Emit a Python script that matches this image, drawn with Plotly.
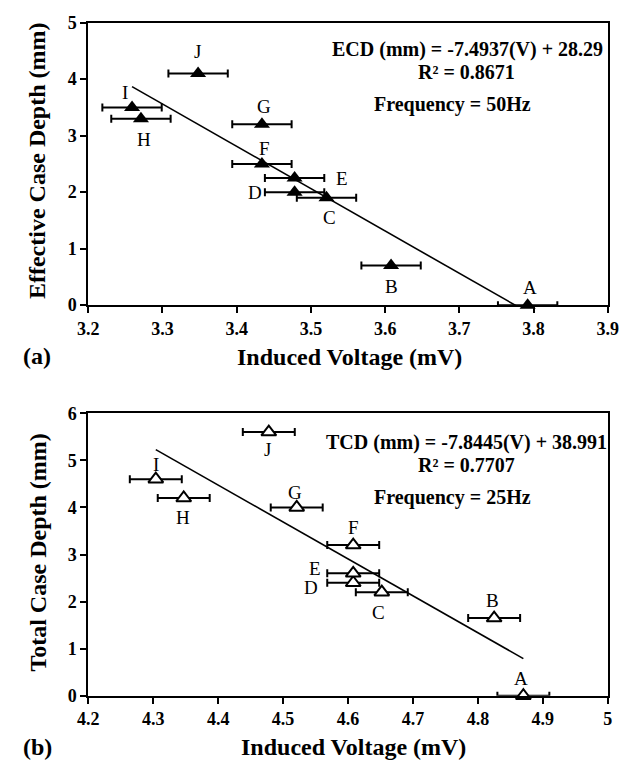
import plotly.graph_objects as go

# ---------------- data ----------------
labels = ["A", "B", "C", "D", "E", "F", "G", "H", "I", "J"]

# (a) 50 Hz
volt_a = [3.792, 3.608, 3.521, 3.478, 3.478, 3.434, 3.434, 3.271, 3.259, 3.348]
ecd_a = [0.0, 0.7, 1.9, 2.0, 2.25, 2.5, 3.2, 3.3, 3.5, 4.1]
err_a = [0.04] * 10
slope_a, icept_a = -7.4937, 28.29
r2_a = 0.8671

# (b) 25 Hz
volt_b = [4.870, 4.825, 4.652, 4.608, 4.608, 4.608, 4.521, 4.347, 4.304, 4.478]
tcd_b = [0.0, 1.65, 2.2, 2.4, 2.6, 3.2, 4.0, 4.2, 4.6, 5.6]
err_b = [0.04] * 10
slope_b, icept_b = -7.8445, 38.991
r2_b = 0.7707

xticks_a = [3.2, 3.3, 3.4, 3.5, 3.6, 3.7, 3.8, 3.9]
xticktext_a = ["3.2", "3.3", "3.4", "3.5", "3.6", "3.7", "3.8", "3.9"]
yticks_a = [0, 1, 2, 3, 4, 5]
xticks_b = [4.2, 4.3, 4.4, 4.5, 4.6, 4.7, 4.8, 4.9, 5.0]
xticktext_b = ["4.2", "4.3", "4.4", "4.5", "4.6", "4.7", "4.8", "4.9", "5"]
yticks_b = [0, 1, 2, 3, 4, 5, 6]

# label offsets in pixels (style): (dx, dy up)
off_a = [(2, 18), (0, -21), (3, -20), (-40, 0), (47, 0), (3, 15), (2, 18), (3, -21), (-7, 15), (-1, 22)]
off_b = [(-2, 17), (-2, 18), (-3, -20), (-42, -5), (-38, 5), (0, 18), (-2, 15), (-1, -19), (0, 15), (-1, -17)]

SERIF = "Liberation Serif, Times New Roman, serif"
W, H = 641, 771


def bold(lst):
    return ["<b>%s</b>" % s for s in lst]


fig = go.Figure()

# ---------- panel (a) ----------
fig.add_trace(go.Scatter(
    x=[min(volt_a), max(volt_a)],
    y=[slope_a * min(volt_a) + icept_a, slope_a * max(volt_a) + icept_a],
    mode="lines", line=dict(color="black", width=1.6),
    xaxis="x", yaxis="y", showlegend=False, cliponaxis=True, hoverinfo="skip"))
fig.add_trace(go.Scatter(
    x=volt_a, y=ecd_a, mode="markers",
    marker=dict(symbol="triangle-up", size=14, color="black", line=dict(width=0)),
    error_x=dict(type="data", array=err_a, visible=True, color="black", thickness=2, width=4),
    xaxis="x", yaxis="y", showlegend=False, cliponaxis=False))

# ---------- panel (b) ----------
fig.add_trace(go.Scatter(
    x=[min(volt_b), max(volt_b)],
    y=[slope_b * min(volt_b) + icept_b, slope_b * max(volt_b) + icept_b],
    mode="lines", line=dict(color="black", width=1.6),
    xaxis="x2", yaxis="y2", showlegend=False, cliponaxis=True, hoverinfo="skip"))
fig.add_trace(go.Scatter(
    x=volt_b, y=tcd_b, mode="markers",
    marker=dict(symbol="triangle-up", size=13, color="white", line=dict(color="black", width=2)),
    error_x=dict(type="data", array=err_b, visible=True, color="black", thickness=2, width=4),
    xaxis="x2", yaxis="y2", showlegend=False, cliponaxis=False))

annotations = []
for lab, xv, yv, (dx, dy) in zip(labels, volt_a, ecd_a, off_a):
    annotations.append(dict(x=xv, y=yv, xref="x", yref="y", text=lab, showarrow=False,
                            xshift=dx, yshift=dy, font=dict(family=SERIF, size=19, color="black")))
for lab, xv, yv, (dx, dy) in zip(labels, volt_b, tcd_b, off_b):
    annotations.append(dict(x=xv, y=yv, xref="x2", yref="y2", text=lab, showarrow=False,
                            xshift=dx, yshift=dy, font=dict(family=SERIF, size=19, color="black")))


def ptext(text, px, py, size, bold_=True, angle=0):
    t = "<b>" + text + "</b>" if bold_ else text
    annotations.append(dict(x=px / W, y=1 - py / H, xref="paper", yref="paper", text=t,
                            showarrow=False, xanchor="center", yanchor="middle", textangle=angle,
                            font=dict(family=SERIF, size=size, color="black")))


ptext("ECD (mm) = %.4f(V) + %.2f" % (slope_a, icept_a), 473, 41, 20)
ptext("R² = %.4f" % r2_a, 472, 64, 20)
ptext("Frequency = 50Hz", 457, 97, 20)
ptext("TCD (mm) = %.4f(V) + %.3f" % (slope_b, icept_b), 472, 444, 20)
ptext("R² = %.4f" % r2_b, 472, 467, 20)
ptext("Frequency = 25Hz", 457, 500, 20)

ptext("Induced Voltage (mV)", 351, 356, 24)
ptext("Induced Voltage (mV)", 355, 757, 24)
ptext("Effective Case Depth (mm)", 27, 155, 24, angle=-90)
ptext("Total Case Depth (mm)", 27, 557, 24, angle=-90)
ptext("(a)", 27, 355, 24)
ptext("(b)", 27, 757, 24)

axis_common = dict(showline=True, linecolor="black", linewidth=2, mirror=True,
                   ticks="outside", ticklen=6, tickwidth=2, tickcolor="black",
                   showgrid=False, zeroline=False,
                   tickfont=dict(family=SERIF, size=18, color="black"))

xdom = [80 / W, 618 / W]
fig.update_layout(
    width=W, height=H,
    margin=dict(l=0, r=0, t=0, b=0),
    paper_bgcolor="white", plot_bgcolor="white",
    xaxis=dict(domain=xdom, range=[3.2, 3.9], tickvals=xticks_a, ticktext=bold(xticktext_a),
               anchor="y", **axis_common),
    yaxis=dict(domain=[1 - 303 / H, 1 - 13 / H], range=[0, 5], tickvals=yticks_a,
               ticktext=bold(yticks_a), anchor="x", **axis_common),
    xaxis2=dict(domain=xdom, range=[4.2, 5.0], tickvals=xticks_b, ticktext=bold(xticktext_b),
                anchor="y2", **axis_common),
    yaxis2=dict(domain=[1 - 704 / H, 1 - 414 / H], range=[0, 6], tickvals=yticks_b,
                ticktext=bold(yticks_b), anchor="x2", **axis_common),
    annotations=annotations,
)

fig.write_html("out.html")
